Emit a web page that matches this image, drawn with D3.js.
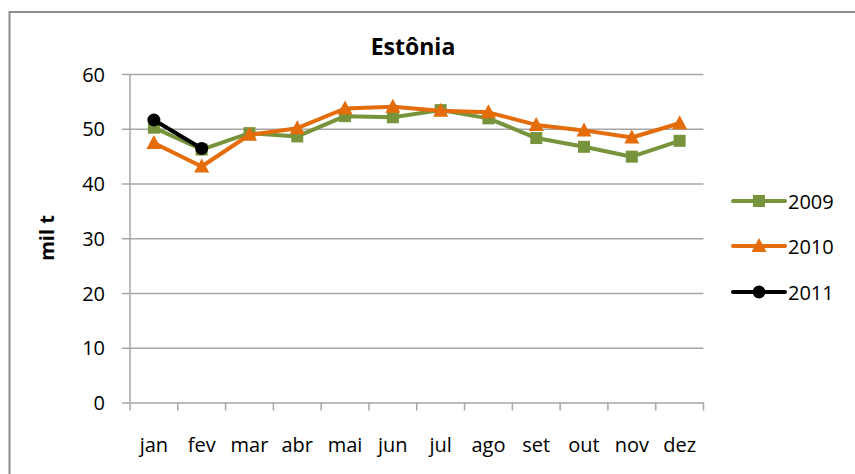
<!DOCTYPE html>
<html>
<head>
<meta charset="utf-8">
<script src="https://cdn.jsdelivr.net/npm/d3@7"></script>
<style>
  body { margin: 0; background: #fff; }
  svg { display: block; font-family: "Open Sans", sans-serif; }
</style>
</head>
<body>
<svg id="chart"></svg>
<script>
const months = ['jan', 'fev', 'mar', 'abr', 'mai', 'jun', 'jul', 'ago', 'set', 'out', 'nov', 'dez'];
const values2009 = [50.2, 46.2, 49.2, 48.6, 52.3, 52.1, 53.4, 51.9, 48.3, 46.7, 44.9, 47.8];
const values2010 = [47.4, 43.1, 48.9, 50.1, 53.7, 54.0, 53.3, 53.0, 50.7, 49.7, 48.4, 51.0];
const values2011 = [51.6, 46.4];
const yTicks = [0, 10, 20, 30, 40, 50, 60];

const series = [
  { name: '2009', values: values2009, color: '#77933c', marker: 'square' },
  { name: '2010', values: values2010, color: '#e46c0a', marker: 'triangle' },
  { name: '2011', values: values2011, color: '#000000', marker: 'circle' }
];

const width = 855, height = 474;
const plot = { left: 130, right: 703.5, top: 74, bottom: 402.5 };

const svg = d3.select('#chart').attr('width', width).attr('height', height);

// outer chart frame (runs off the right/bottom edges)
svg.append('rect')
  .attr('x', 9.5).attr('y', 12)
  .attr('width', 860).attr('height', 480)
  .attr('fill', 'none')
  .attr('stroke', '#8c8c8c')
  .attr('stroke-width', 2);

const x = d3.scaleBand().domain(months).range([plot.left, plot.right]);
const y = d3.scaleLinear().domain([0, 60]).range([plot.bottom, plot.top]);

// horizontal gridlines + y labels
const yAxis = d3.axisLeft(y)
  .tickValues(yTicks)
  .tickSize(-(plot.right - plot.left + 8))
  .tickPadding(17);
const gy = svg.append('g')
  .attr('transform', `translate(${plot.left - 8},0)`)
  .call(yAxis);
gy.select('.domain').remove();
gy.selectAll('.tick line').attr('stroke', '#a6a6a6').attr('stroke-width', 1.5);
gy.selectAll('.tick text')
  .attr('font-size', 20)
  .attr('font-family', '"Open Sans", sans-serif')
  .attr('dy', '0.36em')
  .attr('fill', '#000');

// vertical axis line
svg.append('line')
  .attr('x1', plot.left).attr('x2', plot.left)
  .attr('y1', plot.top).attr('y2', plot.bottom)
  .attr('stroke', '#a6a6a6').attr('stroke-width', 1.5);

// x axis with ticks at band boundaries
const gx = svg.append('g')
  .attr('transform', `translate(0,${plot.bottom})`);
const boundaries = months.map(m => x(m)).concat([plot.right]);
gx.selectAll('line.tick')
  .data(boundaries)
  .join('line')
  .attr('x1', d => d).attr('x2', d => d)
  .attr('y1', 0).attr('y2', 8)
  .attr('stroke', '#a6a6a6').attr('stroke-width', 1.5);
gx.selectAll('text')
  .data(months)
  .join('text')
  .attr('x', d => x(d) + x.bandwidth() / 2)
  .attr('y', 49)
  .attr('text-anchor', 'middle')
  .attr('font-size', 20)
  .attr('fill', '#000')
  .text(d => d);

// title
svg.append('text')
  .attr('x', 413).attr('y', 55)
  .attr('text-anchor', 'middle')
  .attr('font-size', 23)
  .attr('font-weight', 'bold')
  .text('Estônia');

// y axis title
svg.append('text')
  .attr('transform', 'translate(54,238) rotate(-90)')
  .attr('text-anchor', 'middle')
  .attr('font-size', 20)
  .attr('font-weight', 'bold')
  .text('mil t');

const cx = (d, i) => x(months[i]) + x.bandwidth() / 2;

function drawMarker(sel, type, color) {
  if (type === 'square') {
    sel.append('rect')
      .attr('x', -6).attr('y', -6).attr('width', 12).attr('height', 12)
      .attr('fill', color);
  } else if (type === 'triangle') {
    sel.append('path')
      .attr('d', 'M0,-8L7.5,6L-7.5,6Z')
      .attr('fill', color);
  } else {
    sel.append('circle').attr('r', 6.5).attr('fill', color);
  }
}

const line = d3.line()
  .x(cx)
  .y(d => y(d));

series.forEach(s => {
  const g = svg.append('g');
  g.append('path')
    .datum(s.values)
    .attr('fill', 'none')
    .attr('stroke', s.color)
    .attr('stroke-width', 4)
    .attr('stroke-linejoin', 'round')
    .attr('d', line);
  g.selectAll('g.mk')
    .data(s.values)
    .join('g')
    .attr('class', 'mk')
    .attr('transform', (d, i) => `translate(${cx(d, i)},${y(d)})`)
    .each(function () { drawMarker(d3.select(this), s.marker, s.color); });
});

// legend
const legendY = [201, 246, 292];
const legend = svg.append('g');
series.forEach((s, i) => {
  const g = legend.append('g').attr('transform', `translate(733,${legendY[i]})`);
  g.append('line')
    .attr('x1', 0).attr('x2', 52)
    .attr('stroke', s.color).attr('stroke-width', 4)
    .attr('stroke-linecap', 'round');
  const m = g.append('g').attr('transform', 'translate(26,0)');
  drawMarker(m, s.marker, s.color);
  g.append('text')
    .attr('x', 55).attr('y', 7.5)
    .attr('font-size', 20)
    .text(s.name);
});
</script>
</body>
</html>
